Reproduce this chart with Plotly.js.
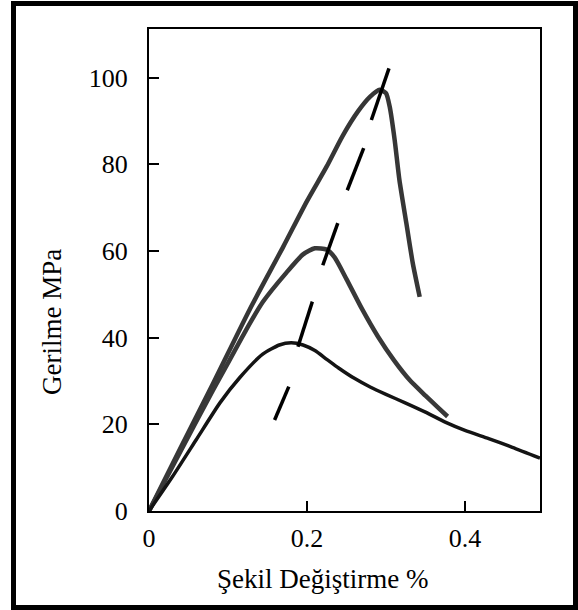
<!DOCTYPE html>
<html>
<head>
<meta charset="utf-8">
<script src="https://cdn.plot.ly/plotly-3.0.1.min.js"></script>
<style>html,body{margin:0;padding:0;background:#fff;}#chart{width:578px;height:610px;}</style>
</head>
<body>
<div id="chart"></div>
<script>
// Upper curve (peak ~97 MPa)
const topX = [0, 0.04, 0.08, 0.1275, 0.17, 0.2, 0.225, 0.245, 0.265, 0.28, 0.292, 0.3, 0.3047, 0.311, 0.317, 0.3258, 0.334, 0.3427];
const topY = [0, 14.6, 29, 46.5, 61, 71.5, 79.5, 86.5, 92.3, 95.6, 97.2, 96.4, 93.3, 85.6, 76.4, 66.4, 57.1, 49.4];
// Middle curve (peak ~60 MPa)
const midX = [0, 0.04, 0.081, 0.102, 0.123, 0.144, 0.174, 0.195, 0.21, 0.225, 0.235, 0.25, 0.27, 0.29, 0.31, 0.33, 0.35, 0.365, 0.378];
const midY = [0, 13.8, 27.9, 34.8, 41.8, 48.2, 55, 59.2, 60.6, 60.3, 58.5, 53.5, 46.5, 40.2, 34.8, 30.2, 26.6, 24, 21.8];
// Lower curve (peak ~38.5 MPa)
const lowX = [0, 0.03, 0.06, 0.09, 0.115, 0.144, 0.165, 0.18, 0.195, 0.21, 0.225, 0.24, 0.26, 0.28, 0.3, 0.325, 0.35, 0.375, 0.4, 0.43, 0.46, 0.495];
const lowY = [0, 8, 16.5, 25, 30.8, 36.2, 38.3, 38.8, 38.3, 37, 35, 33, 30.6, 28.6, 26.9, 24.9, 22.8, 20.5, 18.6, 16.7, 14.7, 12.2];
// Dashed line through the peaks (each dash as a segment)
const dashX = [0.159, 0.177, null, 0.1886, 0.2068, null, 0.22, 0.239, null, 0.251, 0.2718, null, 0.2815, 0.3038];
const dashY = [21, 28.7, null, 37.9, 48.3, null, 56.7, 66.4, null, 74, 83.7, null, 90.2, 102.1];

const xTicks = [0, 0.2, 0.4];
const xTickText = ['0', '0.2', '0.4'];
const yTicks = [0, 20, 40, 60, 80, 100];
const yTickText = ['0', '20', '40', '60', '80', '100'];

const xTitle = 'Şekil Değiştirme %';
const yTitle = 'Gerilme MPa';

const FONT = 'Liberation Serif';

const traces = [
  {x: topX, y: topY, mode: 'lines', line: {color: '#363636', width: 4.5, shape: 'spline', smoothing: 0.6}, hoverinfo: 'skip'},
  {x: midX, y: midY, mode: 'lines', line: {color: '#383838', width: 4.5, shape: 'spline', smoothing: 0.6}, hoverinfo: 'skip'},
  {x: lowX, y: lowY, mode: 'lines', line: {color: '#141414', width: 3.5, shape: 'spline', smoothing: 0.6}, hoverinfo: 'skip'},
  {x: dashX, y: dashY, mode: 'lines', connectgaps: false, line: {color: '#000', width: 3.5}, hoverinfo: 'skip'}
];

const L = 149, R = 38, T = 29, B = 99;
const PW = 578 - L - R, PH = 610 - T - B;
const px2x = p => (p - L) / PW;
const py2y = p => (610 - B - p) / PH;

const layout = {
  width: 578, height: 610,
  margin: {l: L, r: R, t: T, b: B, pad: 0},
  paper_bgcolor: '#fff', plot_bgcolor: '#fff',
  showlegend: false,
  font: {family: FONT, size: 26, color: '#000'},
  xaxis: {
    range: [0, 0.495], showgrid: false, zeroline: false,
    showline: true, linewidth: 2, linecolor: '#000', mirror: true,
    ticks: 'inside', ticklen: 10, tickwidth: 2, tickcolor: '#000',
    tickvals: xTicks, ticktext: xTickText,
    tickfont: {family: FONT, size: 26, color: '#000'},
    ticklabelstandoff: 3
  },
  yaxis: {
    range: [0, 111.2], showgrid: false, zeroline: false,
    showline: true, linewidth: 2, linecolor: '#000', mirror: true,
    ticks: 'inside', ticklen: 10, tickwidth: 2, tickcolor: '#000',
    tickvals: yTicks, ticktext: yTickText,
    tickfont: {family: FONT, size: 26, color: '#000'},
    ticklabelstandoff: 14
  },
  annotations: [
    {text: xTitle, xref: 'paper', yref: 'paper', x: px2x(322), y: py2y(579), xanchor: 'center', yanchor: 'middle', showarrow: false, font: {family: FONT, size: 27, color: '#000'}},
    {text: yTitle, xref: 'paper', yref: 'paper', x: px2x(52), y: py2y(322), xanchor: 'center', yanchor: 'middle', textangle: -90, showarrow: false, font: {family: FONT, size: 27, color: '#000'}}
  ],
  shapes: [
    {type: 'rect', xref: 'paper', yref: 'paper', x0: px2x(13.5), x1: px2x(575.5), y0: py2y(607.5), y1: py2y(3.5), line: {color: '#000', width: 5}, fillcolor: 'rgba(0,0,0,0)', layer: 'above'}
  ]
};

Plotly.newPlot('chart', traces, layout, {displayModeBar: false, staticPlot: true});
</script>
</body>
</html>
